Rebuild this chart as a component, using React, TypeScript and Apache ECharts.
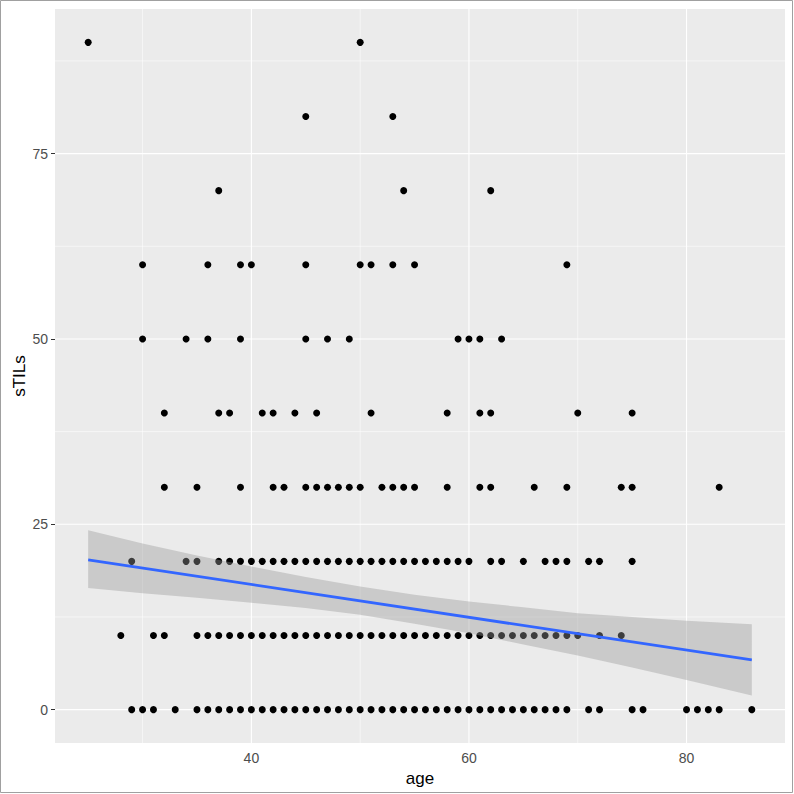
import React, { useEffect, useRef } from "react";
import * as echarts from "echarts";

// ---- data ----
const ages0 = [29, 30, 31, 33, 35, 36, 37, 38, 39, 40, 41, 42, 43, 44, 45, 46, 47, 48, 49, 50, 51, 52, 53, 54, 55, 56, 57, 58, 59, 60, 61, 62, 63, 64, 65, 66, 67, 68, 69, 71, 72, 75, 76, 80, 81, 82, 83, 86];
const ages10 = [28, 31, 32, 35, 36, 37, 38, 39, 40, 41, 42, 43, 44, 45, 46, 47, 48, 49, 50, 51, 52, 53, 54, 55, 56, 57, 58, 59, 60, 61, 62, 63, 64, 65, 66, 67, 68, 69, 70, 72, 74];
const ages20 = [29, 34, 35, 37, 38, 39, 40, 41, 42, 43, 44, 45, 46, 47, 48, 49, 50, 51, 52, 53, 54, 55, 56, 57, 58, 59, 60, 62, 63, 65, 67, 68, 69, 71, 72, 75];
const ages30 = [32, 35, 39, 42, 43, 45, 46, 47, 48, 49, 50, 52, 53, 54, 55, 58, 61, 62, 66, 69, 74, 75, 83];
const ages40 = [32, 37, 38, 41, 42, 44, 46, 51, 58, 61, 62, 70, 75];
const ages50 = [30, 34, 36, 39, 45, 47, 49, 59, 60, 61, 63];
const ages60 = [30, 36, 39, 40, 45, 50, 51, 53, 55, 69];
const ages70 = [37, 54, 62];
const ages80 = [45, 53];
const ages90 = [25, 50];

const rows: [number, number[]][] = [
  [0, ages0], [10, ages10], [20, ages20], [30, ages30], [40, ages40],
  [50, ages50], [60, ages60], [70, ages70], [80, ages80], [90, ages90],
];

// regression line endpoints and confidence band
const fitAges = [25, 86];
const fitValues = [20.2, 6.7];
const bandAges = [25, 30, 35, 40, 45, 50, 55, 60, 65, 70, 75, 80, 86];
const bandUpper = [24.2, 22.4, 20.8, 19.3, 17.9, 16.6, 15.5, 14.6, 13.8, 13.0, 12.5, 12.0, 11.5];
const bandLower = [16.4, 15.7, 15.1, 14.4, 13.7, 12.8, 11.6, 10.3, 8.8, 7.3, 5.7, 4.0, 1.9];

const xTicks = [40, 60, 80];
const xMinor = [30, 50, 70];
const yTicks = [0, 25, 50, 75];
const yMinor = [12.5, 37.5, 62.5, 87.5];

const X_MIN = 21.95;
const X_MAX = 89.05;
const Y_MIN = -4.5;
const Y_MAX = 94.5;

const FONT = "'Liberation Sans', Arial, sans-serif";

export default function App() {
  const ref = useRef<HTMLDivElement>(null);
  useEffect(() => {
    if (!ref.current) return;
    const chart = echarts.init(ref.current, undefined, { renderer: "svg" });

    const scatterData: number[][] = [];
    rows.forEach(([v, ages]) => ages.forEach((a) => scatterData.push([a, v])));

    // [direction (0 = vertical line at x, 1 = horizontal line at y), value, width]
    const gridData: number[][] = [
      ...xTicks.map((v) => [0, v, 1.1]),
      ...xMinor.map((v) => [0, v, 0.55]),
      ...yTicks.map((v) => [1, v, 1.1]),
      ...yMinor.map((v) => [1, v, 0.55]),
    ];

    const bandPoly = bandAges.map((a, i) => [a, bandUpper[i]]).concat(
      bandAges.map((a, i) => [a, bandLower[i]]).reverse()
    );

    const option: any = {
      animation: false,
      grid: {
        left: 55, right: 9, top: 9, bottom: 51,
        containLabel: false,
        outerBoundsMode: "none",
        show: true, backgroundColor: "#EBEBEB", borderWidth: 0,
      },
      xAxis: {
        type: "value", min: X_MIN, max: X_MAX,
        axisLine: { show: false },
        axisTick: { show: true, length: 4, customValues: xTicks, lineStyle: { color: "#333333", width: 1 } },
        axisLabel: { customValues: xTicks, color: "#4D4D4D", fontSize: 14, margin: 8, fontFamily: FONT },
        splitLine: { show: false },
        name: "age", nameLocation: "middle", nameGap: 26,
        nameTextStyle: { color: "#000000", fontSize: 17, fontFamily: FONT },
      },
      yAxis: {
        type: "value", min: Y_MIN, max: Y_MAX,
        axisLine: { show: false },
        axisTick: { show: true, length: 4, customValues: yTicks, lineStyle: { color: "#333333", width: 1 } },
        axisLabel: { customValues: yTicks, color: "#4D4D4D", fontSize: 14, margin: 7, fontFamily: FONT },
        splitLine: { show: false },
        name: "sTILs", nameLocation: "middle", nameGap: 27,
        nameMoveOverlap: false,
        nameTextStyle: { color: "#000000", fontSize: 17, fontFamily: FONT },
      },
      graphic: [
        {
          type: "rect", silent: true,
          shape: { x: 0.5, y: 0.5, width: 792, height: 792 },
          style: { fill: "none", stroke: "#A0A0A0", lineWidth: 1 },
        },
      ],
      series: [
        {
          type: "custom", z: 1, silent: true,
          data: gridData,
          encode: { x: 1, y: 1 },
          renderItem: (params: any, api: any) => {
            const dir = api.value(0);
            const v = api.value(1);
            const w = api.value(2);
            let p1, p2;
            if (dir === 0) {
              p1 = api.coord([v, Y_MIN]);
              p2 = api.coord([v, Y_MAX]);
            } else {
              p1 = api.coord([X_MIN, v]);
              p2 = api.coord([X_MAX, v]);
            }
            return {
              type: "line",
              shape: { x1: p1[0], y1: p1[1], x2: p2[0], y2: p2[1] },
              style: { stroke: "#FFFFFF", lineWidth: w },
            };
          },
        },
        {
          type: "scatter", z: 2,
          symbol: "circle", symbolSize: 7,
          itemStyle: { color: "#000000", opacity: 1 },
          data: scatterData,
        },
        {
          type: "custom", z: 3, silent: true,
          data: [[bandAges[0], bandUpper[0]]],
          renderItem: (params: any, api: any) => {
            const pts = bandPoly.map((p) => api.coord(p));
            return {
              type: "polygon",
              shape: { points: pts },
              style: { fill: "rgba(153,153,153,0.4)", stroke: "none" },
            };
          },
        },
        {
          type: "line", z: 4, silent: true,
          symbol: "none",
          lineStyle: { color: "#3366FF", width: 2.8 },
          data: fitAges.map((a, i) => [a, fitValues[i]]),
        },
      ],
    };
    chart.setOption(option);
    return () => chart.dispose();
  }, []);
  return (
    <div
      ref={ref}
      style={{ position: "absolute", left: 0, top: 0, width: 794, height: 794, background: "#FFFFFF" }}
    />
  );
}
